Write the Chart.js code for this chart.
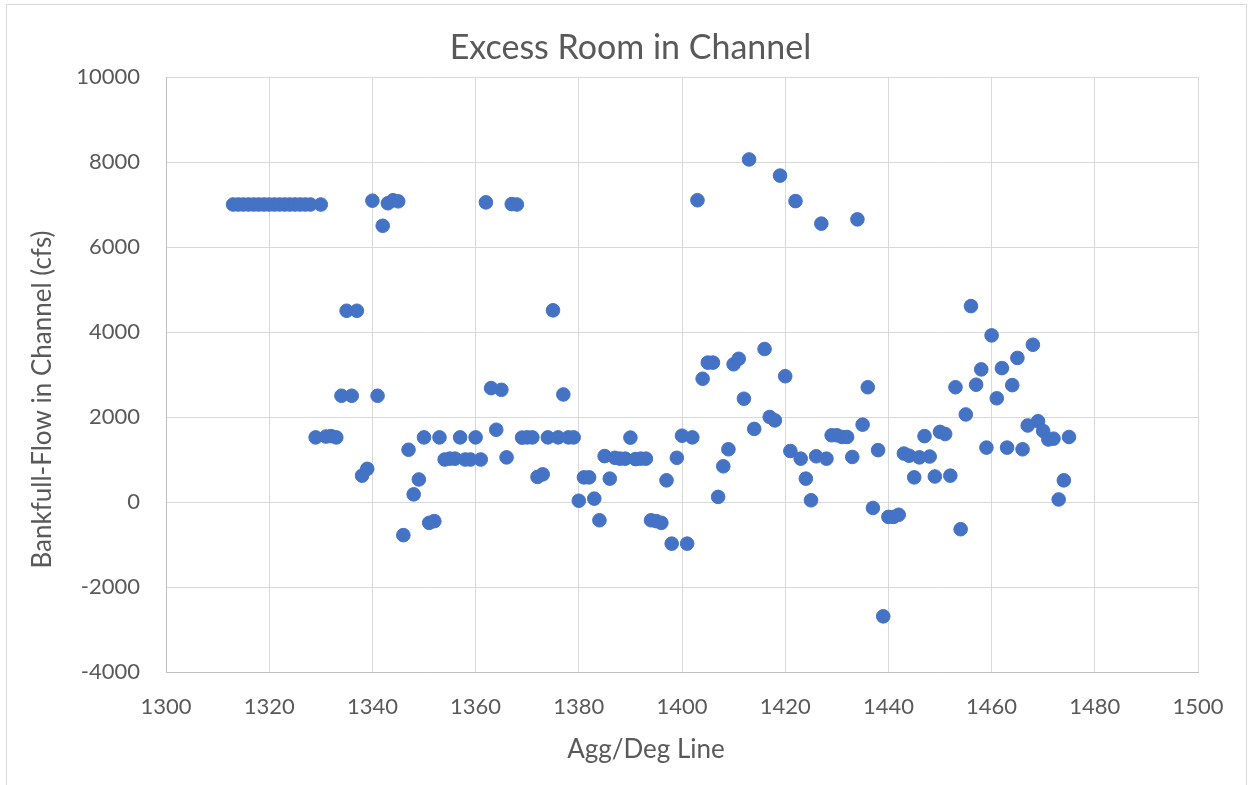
<!DOCTYPE html>
<html>
<head>
<meta charset="utf-8">
<title>Excess Room in Channel</title>
<script src="https://cdn.jsdelivr.net/npm/chart.js@4/dist/chart.umd.min.js"></script>
<style>
  body { margin: 0; background: #fff; }
  #wrap { position: relative; width: 1253px; height: 785px; overflow: hidden; }
  #frame { position: absolute; left: 6px; top: 4px; width: 1239px; height: 800px; border: 1px solid #d9d9d9; }
  #chart { position: absolute; left: 0; top: 0; }
</style>
</head>
<body>
<div id="wrap">
  <div id="frame"></div>
  <canvas id="chart" width="1253" height="785"></canvas>
</div>
<script>
const TITLE = "Excess Room in Channel";
const X_TITLE = "Agg/Deg Line";
const Y_TITLE = "Bankfull-Flow in Channel (cfs)";

// Agg/Deg line numbers (1415 has no point)
const aggDegLine = [
  1313, 1314, 1315, 1316, 1317, 1318, 1319, 1320, 1321, 1322, 1323, 1324, 1325, 1326, 1327, 1328,
  1329, 1330, 1331, 1332, 1333, 1334, 1335, 1336, 1337, 1338, 1339, 1340, 1341, 1342, 1343, 1344,
  1345, 1346, 1347, 1348, 1349, 1350, 1351, 1352, 1353, 1354, 1355, 1356, 1357, 1358, 1359, 1360,
  1361, 1362, 1363, 1364, 1365, 1366, 1367, 1368, 1369, 1370, 1371, 1372, 1373, 1374, 1375, 1376,
  1377, 1378, 1379, 1380, 1381, 1382, 1383, 1384, 1385, 1386, 1387, 1388, 1389, 1390, 1391, 1392,
  1393, 1394, 1395, 1396, 1397, 1398, 1399, 1400, 1401, 1402, 1403, 1404, 1405, 1406, 1407, 1408,
  1409, 1410, 1411, 1412, 1413, 1414, 1416, 1417, 1418, 1419, 1420, 1421, 1422, 1423, 1424, 1425,
  1426, 1427, 1428, 1429, 1430, 1431, 1432, 1433, 1434, 1435, 1436, 1437, 1438, 1439, 1440, 1441,
  1442, 1443, 1444, 1445, 1446, 1447, 1448, 1449, 1450, 1451, 1452, 1453, 1454, 1455, 1456, 1457,
  1458, 1459, 1460, 1461, 1462, 1463, 1464, 1465, 1466, 1467, 1468, 1469, 1470, 1471, 1472, 1473,
  1474, 1475
];

// bankfull flow in channel (cfs), same order as above
const bankfullFlow = [
  7000, 7000, 7000, 7000, 7000, 7000, 7000, 7000, 7000, 7000, 7000, 7000, 7000, 7000, 7000, 7000,
  1520, 7000, 1540, 1550, 1520, 2500, 4500, 2500, 4500, 620, 780, 7090, 2500, 6500, 7030, 7100,
  7075, -780, 1230, 180, 530, 1520, -490, -450, 1520, 1000, 1020, 1020, 1520, 1000, 1000, 1520,
  1000, 7050, 2680, 1700, 2640, 1050, 7010, 7000, 1515, 1520, 1520, 590, 650, 1520, 4510, 1520,
  2530, 1520, 1520, 30, 580, 580, 80, -430, 1080, 550, 1040, 1020, 1020, 1515, 1010, 1020,
  1020, -430, -450, -490, 510, -980, 1040, 1560, -980, 1520, 7100, 2900, 3280, 3280, 120, 840,
  1240, 3240, 3370, 2430, 8060, 1720, 3600, 2000, 1920, 7680, 2960, 1200, 7080, 1020, 550, 40,
  1075, 6550, 1020, 1570, 1570, 1530, 1530, 1060, 6650, 1820, 2700, -140, 1220, -2690, -350, -350,
  -300, 1140, 1090, 580, 1050, 1550, 1070, 600, 1650, 1600, 620, 2700, -640, 2060, 4610, 2760,
  3120, 1280, 3920, 2440, 3150, 1280, 2750, 3390, 1240, 1800, 3700, 1900, 1670, 1470, 1490, 60,
  510, 1530
];

const xTicks = [1300, 1320, 1340, 1360, 1380, 1400, 1420, 1440, 1460, 1480, 1500];
const yTicks = [-4000, -2000, 0, 2000, 4000, 6000, 8000, 10000];

const TEXT = "#595959";
const BLUE = "#4472C4";
const FONT = "Lato, 'Open Sans', sans-serif";

Chart.defaults.font.family = FONT;
Chart.defaults.color = TEXT;

// chart title and axis titles drawn by hand so they sit where Excel put them
const chartTexts = {
  id: "chartTexts",
  afterDraw(chart) {
    const ctx = chart.ctx;
    const area = chart.chartArea;
    ctx.save();
    ctx.fillStyle = TEXT;
    ctx.textAlign = "center";
    ctx.textBaseline = "middle";
    ctx.font = "34px " + FONT;
    ctx.fillText(TITLE, chart.width / 2 + 4, 48);
    ctx.font = "26px " + FONT;
    ctx.fillText(X_TITLE, (area.left + area.right) / 2 - 36, area.bottom + 78);
    ctx.translate(43, (area.top + area.bottom) / 2 + 25);
    ctx.rotate(-Math.PI / 2);
    ctx.fillText(Y_TITLE, 0, 0);
    ctx.restore();
  }
};

const ctx = document.getElementById("chart").getContext("2d");

new Chart(ctx, {
  type: "scatter",
  data: {
    datasets: [{
      label: Y_TITLE,
      data: aggDegLine.map((x, i) => ({ x: x, y: bankfullFlow[i] })),
      backgroundColor: BLUE,
      borderColor: BLUE,
      borderWidth: 1,
      pointRadius: 6.8,
      pointHoverRadius: 6.8
    }]
  },
  options: {
    responsive: false,
    animation: false,
    events: [],
    layout: { padding: { left: 0, right: 55, top: 77, bottom: 0 } },
    plugins: {
      legend: { display: false },
      tooltip: { enabled: false },
      title: { display: false }
    },
    scales: {
      x: {
        type: "linear",
        min: 1300,
        max: 1500,
        afterBuildTicks: s => { s.ticks = xTicks.map(v => ({ value: v })); },
        afterFit: s => { s.height = 113; },
        grid: { color: "#d9d9d9", lineWidth: 1, drawTicks: false },
        border: { color: "#bfbfbf", width: 1 },
        ticks: { font: { size: 22 }, padding: 22, maxRotation: 0, callback: v => String(v) }
      },
      y: {
        type: "linear",
        min: -4000,
        max: 10000,
        afterBuildTicks: s => { s.ticks = yTicks.map(v => ({ value: v })); },
        afterFit: s => { s.width = 166; },
        grid: { color: "#d9d9d9", lineWidth: 1, drawTicks: false },
        border: { color: "#bfbfbf", width: 1 },
        ticks: { font: { size: 22 }, padding: 26, callback: v => String(v) }
      }
    }
  },
  plugins: [chartTexts]
});
</script>
</body>
</html>
